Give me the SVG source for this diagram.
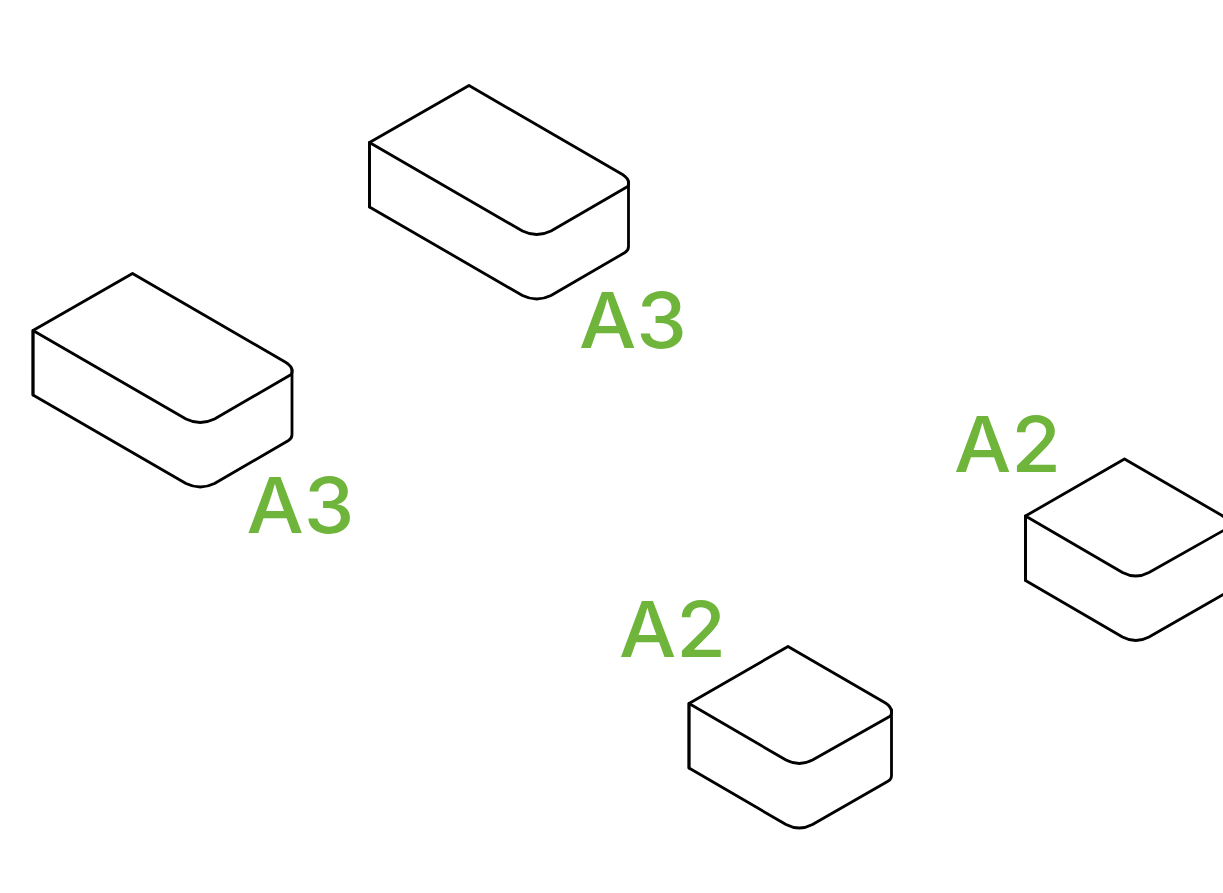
<svg xmlns="http://www.w3.org/2000/svg" width="1223" height="893" viewBox="0 0 1223 893">
<style>
.box{fill:#fff;stroke:#000;stroke-width:2.8;stroke-linejoin:round;stroke-linecap:round}
.label{font-family:"Inter","Liberation Sans",sans-serif;font-size:77px;font-weight:500;fill:#6fb53c}
</style>
<defs>
<g id="a3shape" class="box">
<path d="M369.500 207V142.500L469 85.500L622.500 174.500Q631 180 627.700 186.500L551 231Q536.700 238 522.500 231L369.500 142.500"/>
<path d="M369.500 142.500V207L522.500 295.500Q536.700 302.500 551 295.500L625 252.500Q628.500 250.500 628.500 246.500V181.500" fill="none"/>
</g>
<g id="a2shape" class="box">
<path d="M689 768V703.500L788 646.500L885.500 703Q894 708.500 890.500 716L812.500 760Q799.300 767 786 760L689 703.500"/>
<path d="M689 703.500V768L786 824.500Q799.300 831.500 812.500 824.500L887.500 781.500Q891.500 779.500 891.500 775.500V710" fill="none"/>
</g>
</defs>
<g id="node-a3-top"><use href="#a3shape"/><text class="label" x="579" y="348" textLength="108" lengthAdjust="spacingAndGlyphs">A3</text></g>
<g id="node-a3-left"><use href="#a3shape" transform="translate(-336.500 188)"/><text class="label" x="246.500" y="533" textLength="108" lengthAdjust="spacingAndGlyphs">A3</text></g>
<g id="node-a2-bottom"><use href="#a2shape"/><text class="label" x="619" y="657" textLength="107" lengthAdjust="spacingAndGlyphs">A2</text></g>
<g id="node-a2-right"><use href="#a2shape" transform="translate(336.500 -187.500)"/><text class="label" x="954" y="472" textLength="107" lengthAdjust="spacingAndGlyphs">A2</text></g>
<g id="connectors"/>
</svg>
